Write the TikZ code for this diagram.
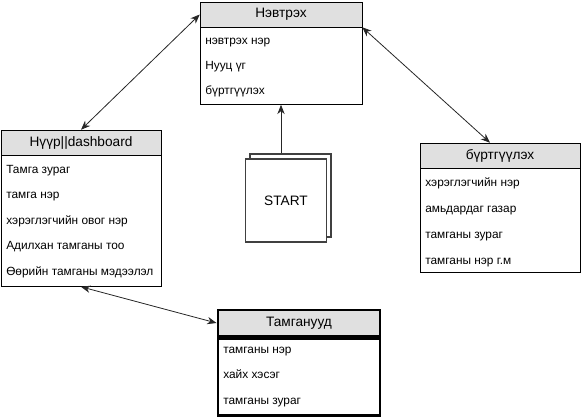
\documentclass[tikz,border=0pt]{standalone}
\usepackage{fontspec}
\setmainfont{Liberation Sans}
\usetikzlibrary{arrows.meta, positioning}

\begin{document}
\begin{tikzpicture}[
  x=0.75pt, y=-0.75pt,
  hdr/.style={rectangle, draw=black, fill=black!12, minimum height=18.75pt,
              inner sep=0pt, font=\fontsize{10.25}{12}\selectfont},
  tbl/.style={rectangle, draw=black, fill=white, inner sep=0pt},
  itm/.style={anchor=west, inner sep=0pt, text height=6.6pt, text depth=2pt,
              font=\fontsize{8.9}{10}\selectfont},
  arrow/.style={{Stealth[length=7pt,width=5.5pt]}-{Stealth[length=7pt,width=5.5pt]},
                line width=0.6pt, black!85},
  uparrow/.style={-{Stealth[length=7pt,width=5.5pt]}, line width=0.6pt, black!85},
  stack/.style={rectangle, draw=black!75, line width=1.4pt, fill=white,
                minimum width=60.75pt, minimum height=62.25pt, inner sep=0pt}
]
\useasboundingbox (0,0) rectangle (581,418);

% Нэвтрэх
\node[hdr, minimum width=121.5pt] (loginhdr) at (281,14.5) {Нэвтрэх};
\node[tbl, minimum width=121.5pt, minimum height=57.75pt, below=0pt of loginhdr] (loginbody) {};
\node[itm] (login1) at (205,41) {нэвтрэх нэр};
\node[itm] (login2) at (205,66) {Нууц үг};
\node[itm] (login3) at (205,91) {бүртгүүлэх};

% Нүүр
\node[hdr, minimum width=120pt] (homehdr) at (81,142.5) {Нүүр||dashboard};
\node[tbl, minimum width=120pt, minimum height=98.25pt, below=0pt of homehdr] (homebody) {};
\node[itm] (home1) at (6,170) {Тамга зураг};
\node[itm] (home2) at (6,195) {тамга нэр};
\node[itm] (home3) at (6,221) {хэрэглэгчийн овог нэр};
\node[itm] (home4) at (6,246) {Адилхан тамганы тоо};
\node[itm] (home5) at (6,272) {Өөрийн тамганы мэдээлэл};

% бүртгүүлэх
\node[hdr, minimum width=120pt] (reghdr) at (500,155.5) {бүртгүүлэх};
\node[tbl, minimum width=120pt, minimum height=78pt, below=0pt of reghdr] (regbody) {};
\node[itm] (reg1) at (425,183) {хэрэглэгчийн нэр};
\node[itm] (reg2) at (425,209) {амьдардаг газар};
\node[itm] (reg3) at (425,235) {тамганы зураг};
\node[itm] (reg4) at (425,261) {тамганы нэр г.м};

% Тамганууд
\node[hdr, line width=2.2pt, minimum width=121.5pt, minimum height=19.5pt] (tamgahdr) at (299,323) {Тамганууд};
\node[tbl, line width=2.2pt, minimum width=121.5pt, minimum height=57.75pt, below=0pt of tamgahdr] (tamgabody) {};
\node[itm] (tamga1) at (223,350) {тамганы нэр};
\node[itm] (tamga2) at (223,375) {хайх хэсэг};
\node[itm] (tamga3) at (223,401) {тамганы зураг};

% START
\node[stack] (startback) at (290.5,195.5) {};
\node[stack, font=\fontsize{10.25}{12}\selectfont] (start) at (286,200.5) {START};

\draw[arrow] (loginhdr.west) -- (homehdr.north);
\draw[arrow] (loginhdr.south east) -- ([xshift=-7.5pt]reghdr.north);
\draw[uparrow] (loginbody.south |- startback.north) -- (loginbody.south);
\draw[arrow] (homebody.south) -- (tamgahdr.west);

\end{tikzpicture}
\end{document}
